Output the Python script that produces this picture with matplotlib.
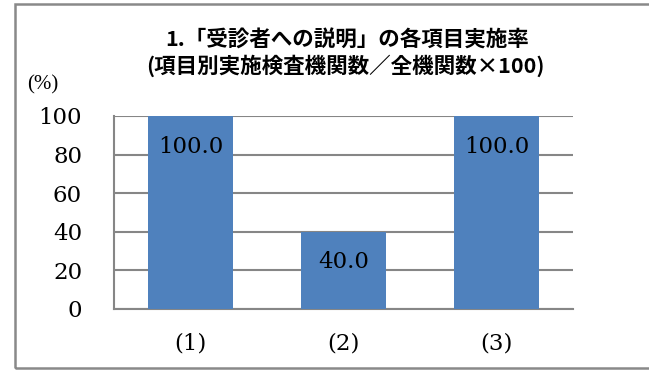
import matplotlib
matplotlib.use('Agg')
import matplotlib.pyplot as plt
from matplotlib.patches import Rectangle

# chart data
categories = ['(1)', '(2)', '(3)']
rates = [100.0, 40.0, 100.0]
yticks = [0, 20, 40, 60, 80, 100]
title_line1 = '1.「受診者への説明」の各項目実施率'
title_line2 = '(項目別実施検査機関数／全機関数×100)'

bar_color = '#4F81BD'
grid_color = '#868686'
serif = ['DejaVu Serif']
cjk = ['Noto Sans CJK JP', 'DejaVu Sans']

fig = plt.figure(figsize=(6.49, 3.70), dpi=100)
ax = fig.add_axes([0.1757, 0.1649, 0.7072, 0.5216])

x = range(len(categories))
bars = ax.bar(x, rates, width=0.56, color=bar_color, zorder=3)

# value labels inside the top of each bar
for b, v in zip(bars, rates):
    ax.annotate('%.1f' % v, (b.get_x() + b.get_width() / 2, v),
                xytext=(0, -22), textcoords='offset points',
                ha='center', va='center', fontsize=16.5, family=serif, zorder=4)

ax.set_xlim(-0.5, len(categories) - 0.5)
ax.set_ylim(0, 100)
ax.set_yticks(yticks)
ax.set_xticks(list(x))
ax.set_xticklabels(categories)
ax.tick_params(axis='both', length=0, labelsize=16.5)
ax.tick_params(axis='y', pad=23)
ax.tick_params(axis='x', pad=17)
for lbl in ax.get_xticklabels() + ax.get_yticklabels():
    lbl.set_family(serif)

ax.yaxis.grid(True, color=grid_color, linewidth=1.5, zorder=0)
for side in ['top', 'right']:
    ax.spines[side].set_visible(False)
for side in ['left', 'bottom']:
    ax.spines[side].set_color(grid_color)
    ax.spines[side].set_linewidth(1.5)

fig.text(0.535, 0.892, title_line1, ha='center', va='center',
         fontsize=15.5, fontweight='bold', family=cjk)
fig.text(0.532, 0.822, title_line2, ha='center', va='center',
         fontsize=15.5, fontweight='bold', family=cjk)
fig.text(0.066, 0.77, '(%)', ha='center', va='center', fontsize=15,
         family=['Liberation Serif'])

# outer chart frame (runs off the right edge like the source)
frame = Rectangle((15 / 649, 2 / 370), 1.0, 364 / 370, transform=fig.transFigure,
                  fill=False, edgecolor='#898989', linewidth=1.8, clip_on=False)
fig.patches.append(frame)

fig.savefig('out.png', dpi=100, facecolor='white')
